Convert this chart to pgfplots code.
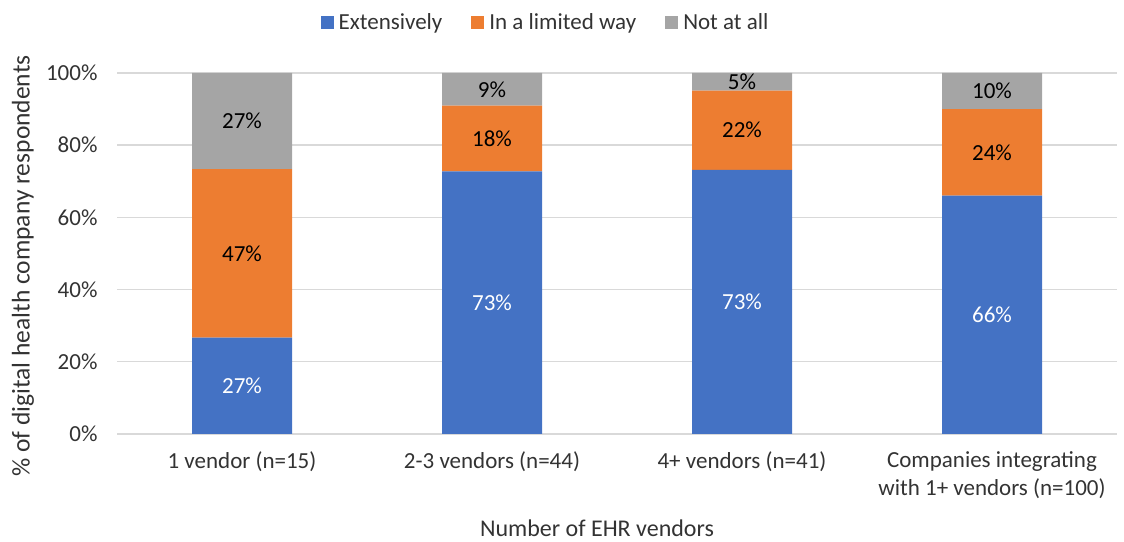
\documentclass[border=0pt]{standalone}
\usepackage{pgfplots}
\pgfplotsset{compat=1.18}
\usepackage{pgfplotstable}
\usepackage{fontspec}
\setmainfont{Carlito}

\definecolor{cblue}{HTML}{4472C4}
\definecolor{corange}{HTML}{ED7D31}
\definecolor{cgray}{HTML}{A5A5A5}
\definecolor{cgrid}{HTML}{D9D9D9}
\definecolor{ctext}{HTML}{333333}

% share of respondents per vendor group (percent)
\pgfplotstableread{
x  ext     lim     none
0  26.667  46.666  26.667
1  72.727  18.182  9.091
2  73.171  21.951  4.878
3  66      24      10
}\datatable

\begin{document}
\begin{tikzpicture}
\begin{axis}[
  scale only axis, width=1000pt, height=361pt,
  ybar stacked, bar width=100pt,
  xmin=-0.5, xmax=3.5, ymin=0, ymax=100,
  xtick={0,1,2,3},
  xticklabels={1 vendor (n=15), 2-3 vendors (n=44), 4+ vendors (n=41),
    {Companies integrating\\with 1+ vendors (n=100)}},
  xticklabel style={align=center, text=ctext, font=\fontsize{23}{28}\selectfont,
    yshift=-14pt},
  ytick={0,20,...,100},
  yticklabel={\pgfmathprintnumber{\tick}\%},
  yticklabel style={text=ctext, font=\fontsize{23}{28}\selectfont, xshift=-16pt},
  /pgf/number format/assume math mode=true,
  ymajorgrids, grid style={cgrid, line width=1.3pt},
  major tick length=0pt,
  axis line style={draw=none},
  xlabel={Number of EHR vendors},
  xlabel style={at={(axis description cs:0.48,-0.262)}, anchor=center,
    text=ctext, font=\fontsize{24}{28}\selectfont},
  ylabel={\% of digital health company respondents},
  ylabel style={at={(axis description cs:-0.094,0.465)}, anchor=center,
    text=ctext, font=\fontsize{25.5}{28}\selectfont},
  legend columns=3,
  legend style={at={(axis description cs:0.43,1.141)}, anchor=center,
    draw=none, fill=none, text=ctext, font=\fontsize{23}{26}\selectfont,
    /tikz/every even column/.append style={column sep=24pt},
    nodes={inner xsep=5pt}},
  legend image code/.code={\fill[#1] (0pt,-6.5pt) rectangle (13pt,6.5pt);},
  nodes near coords={\pgfmathprintnumber[fixed,precision=0]{\pgfplotspointmeta}\%},
  every node near coord/.append style={anchor=center,
    font=\fontsize{23}{28}\selectfont},
]
\addplot[fill=cblue, draw=none, every node near coord/.append style={text=white}]
  table[x=x, y=ext] {\datatable};
\addplot[fill=corange, draw=none, every node near coord/.append style={text=black}]
  table[x=x, y=lim] {\datatable};
\addplot[fill=cgray, draw=none, every node near coord/.append style={text=black}]
  table[x=x, y=none] {\datatable};
\legend{Extensively, In a limited way, Not at all}
\coordinate (bbl) at (rel axis cs:-0.117,-0.299);
\coordinate (btr) at (rel axis cs:1.007,1.202);
\end{axis}
\pgfresetboundingbox
\useasboundingbox (bbl) rectangle (btr);
\end{tikzpicture}
\end{document}
